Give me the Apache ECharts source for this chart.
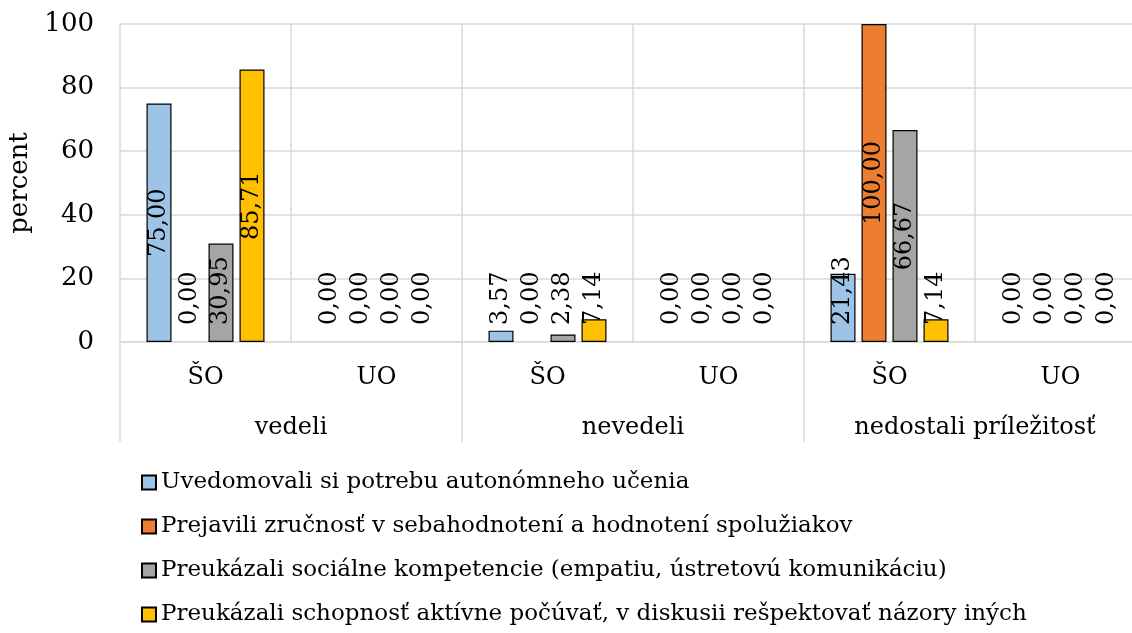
<!DOCTYPE html>
<html>
<head>
<meta charset="utf-8">
<script src="https://cdn.jsdelivr.net/npm/echarts@6/dist/echarts.min.js"></script>
<style>
  html, body { margin: 0; padding: 0; background: #fff; }
  #chart { width: 1132px; height: 633px; }
</style>
</head>
<body>
<div id="chart"></div>
<script>
  // categories (inner level) and groups (outer level)
  var categories = ['ŠO', 'UO', 'ŠO', 'UO', 'ŠO', 'UO']
  var groups = ['vedeli', 'nevedeli', 'nedostali príležitosť']
  var yTicks = [0, 20, 40, 60, 80, 100]

  var seriesNames = [
    'Uvedomovali si potrebu autonómneho učenia',
    'Prejavili zručnosť v sebahodnotení a hodnotení spolužiakov',
    'Preukázali sociálne kompetencie (empatiu, ústretovú komunikáciu)',
    'Preukázali schopnosť aktívne počúvať, v diskusii rešpektovať názory iných'
  ]
  var autonomne = [75.00, 0.00, 3.57, 0.00, 21.43, 0.00]
  var sebahodnotenie = [0.00, 0.00, 0.00, 0.00, 100.00, 0.00]
  var socialne = [30.95, 0.00, 2.38, 0.00, 66.67, 0.00]
  var pocuvat = [85.71, 0.00, 7.14, 0.00, 7.14, 0.00]

  var colors = ['#9dc3e6', '#ed7d31', '#a5a5a5', '#ffc000']
  var font = 'DejaVu Serif'

  var chart = echarts.init(document.getElementById('chart'))

  function fmt(v) {
    return v.toFixed(2).replace('.', ',')
  }

  // label centred in bar, pushed up from the axis when the bar is too short
  function labelled(values) {
    return values.map(function (v) {
      var tall = v >= 33
      return {
        value: v,
        itemStyle: v === 0 ? { borderWidth: 0 } : undefined,
        label: tall ? { position: 'inside', align: 'center', verticalAlign: 'middle' }
                    : { position: 'insideBottom', distance: 17, align: 'left', verticalAlign: 'middle' }
      }
    })
  }

  var seriesData = [autonomne, sebahodnotenie, socialne, pocuvat]

  chart.setOption({
    animation: false,
    textStyle: { fontFamily: font },
    grid: { left: 120, right: -14, top: 24, bottom: 291, outerBoundsMode: 'none' },
    legend: {
      orient: 'vertical',
      left: 136,
      top: 466,
      height: 300,
      itemWidth: 14,
      itemHeight: 14,
      itemGap: 21,
      icon: 'rect',
      textStyle: { fontFamily: font, fontSize: 23, color: '#000' },
      data: seriesNames
    },
    xAxis: [
      {
        type: 'category',
        data: categories,
        axisTick: { show: false },
        axisLine: { lineStyle: { color: '#d9d9d9', width: 1.5 } },
        splitLine: { show: true, interval: 0, lineStyle: { color: '#d9d9d9', width: 1.5 } },
        axisLabel: { margin: 24, fontSize: 24, color: '#000', fontFamily: font }
      },
      {
        type: 'category',
        data: groups,
        position: 'bottom',
        axisLine: { show: false },
        axisTick: { show: true, interval: 0, length: 100, lineStyle: { color: '#d9d9d9', width: 1.5 } },
        axisLabel: { margin: 74, fontSize: 24, color: '#000', fontFamily: font }
      }
    ],
    yAxis: {
      type: 'value',
      min: 0,
      max: 100,
      interval: 20,
      name: 'percent',
      nameLocation: 'middle',
      nameGap: 74,
      nameTextStyle: { fontSize: 26, color: '#000', fontFamily: font },
      axisLine: { show: false },
      axisTick: { show: false },
      splitLine: { lineStyle: { color: '#d9d9d9', width: 1.5 } },
      axisLabel: {
        margin: 26,
        fontSize: 26,
        color: '#000',
        fontFamily: font,
        formatter: function (v) { return yTicks.indexOf(v) >= 0 ? String(v) : '' }
      }
    },
    series: seriesNames.map(function (name, i) {
      return {
        name: name,
        type: 'bar',
        xAxisIndex: 0,
        barWidth: 25,
        barGap: '24%',
        itemStyle: { color: colors[i], borderColor: '#000', borderWidth: 1.2 },
        label: {
          show: true,
          rotate: 90,
          fontSize: 24,
          color: '#000',
          fontFamily: font,
          formatter: function (p) { return fmt(p.value) }
        },
        data: labelled(seriesData[i])
      }
    })
  })
</script>
</body>
</html>
